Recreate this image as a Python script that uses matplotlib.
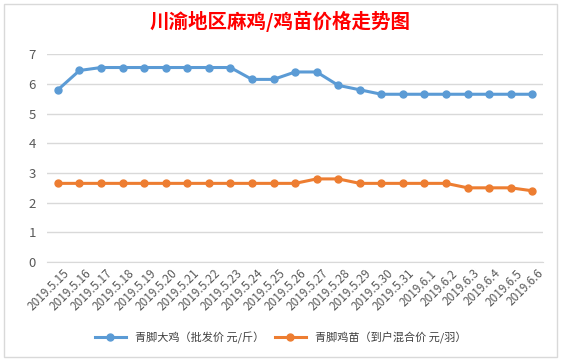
import matplotlib.pyplot as plt
import matplotlib.transforms as mtransforms
from matplotlib.patches import Rectangle

plt.rcParams['font.family'] = ['Noto Sans CJK SC', 'DejaVu Sans']

dates = ['2019.5.15', '2019.5.16', '2019.5.17', '2019.5.18', '2019.5.19', '2019.5.20',
         '2019.5.21', '2019.5.22', '2019.5.23', '2019.5.24', '2019.5.25', '2019.5.26',
         '2019.5.27', '2019.5.28', '2019.5.29', '2019.5.30', '2019.5.31', '2019.6.1',
         '2019.6.2', '2019.6.3', '2019.6.4', '2019.6.5', '2019.6.6']
chicken = [5.8, 6.45, 6.55, 6.55, 6.55, 6.55, 6.55, 6.55, 6.55, 6.15, 6.15, 6.4,
           6.4, 5.95, 5.8, 5.65, 5.65, 5.65, 5.65, 5.65, 5.65, 5.65, 5.65]
chick = [2.65, 2.65, 2.65, 2.65, 2.65, 2.65, 2.65, 2.65, 2.65, 2.65, 2.65, 2.65,
         2.8, 2.8, 2.65, 2.65, 2.65, 2.65, 2.65, 2.5, 2.5, 2.5, 2.4]
labels = ['青脚大鸡（批发价 元/斤）', '青脚鸡苗（到户混合价 元/羽）']

fig = plt.figure(figsize=(5.61, 3.61), dpi=100)
ax = fig.add_axes([0.084, 0.274, 0.884, 0.576])

x = range(len(dates))
ax.plot(x, chicken, color='#5B9BD5', lw=2.2, marker='o', ms=5, label=labels[0])
ax.plot(x, chick, color='#ED7D31', lw=2.2, marker='o', ms=5, label=labels[1])

ax.set_xlim(-0.5, len(dates) - 0.5)
ax.set_ylim(0, 7)
ax.set_yticks(range(8))
ax.grid(axis='y', color='#D9D9D9', lw=1)
ax.set_axisbelow(True)
for s in ['top', 'right', 'left']:
    ax.spines[s].set_visible(False)
ax.spines['bottom'].set_color('#D9D9D9')
ax.tick_params(length=0, colors='#595959')
ax.tick_params(axis='y', pad=8, labelsize=9.5)
ax.set_xticks(list(x))
ax.set_xticklabels(dates, rotation=45, ha='right', rotation_mode='anchor', fontsize=8.5)
shift = mtransforms.ScaledTranslation(5 / 100, 0, fig.dpi_scale_trans)
for lab in ax.get_xticklabels():
    lab.set_transform(lab.get_transform() + shift)

fig.text(0.5, 0.94, '川渝地区麻鸡/鸡苗价格走势图', color='red', fontsize=14,
         fontweight='bold', ha='center', va='center')

fig.legend(loc='center', bbox_to_anchor=(0.5, 0.065), ncol=2, frameon=False,
           fontsize=8, labelcolor='#404040', handlelength=2.8, columnspacing=1.0)

fig.patches.append(Rectangle((0.008, 0.012), 0.985, 0.976, transform=fig.transFigure,
                             fill=False, edgecolor='#D9D9D9', lw=1))

fig.savefig('out.png', dpi=100)
